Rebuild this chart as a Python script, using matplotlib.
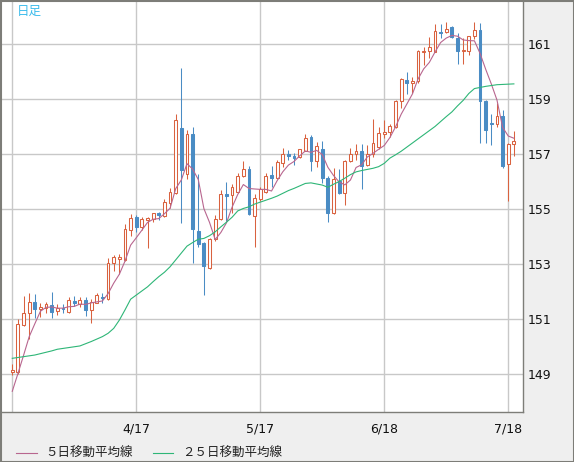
import numpy as np
import pandas as pd
import matplotlib
matplotlib.use('Agg')
import matplotlib.pyplot as plt
from matplotlib.lines import Line2D
from matplotlib.patches import Rectangle

# daily candles, 2024-03-18 .. 2024-07-19 (weekdays)
opens = [149.06, 149.08, 150.78, 151.20, 151.60, 151.38, 151.41, 151.50, 151.28, 151.39,
         151.27, 151.65, 151.55, 151.69, 151.33, 151.59, 151.80, 151.72, 153.02, 153.18,
         153.15, 154.24, 154.72, 154.33, 154.60, 154.62, 154.84, 154.76, 155.23, 155.59,
         157.93, 156.26, 157.73, 154.20, 153.77, 152.84, 153.90, 154.63, 155.53, 155.50,
         155.63, 156.21, 156.44, 154.76, 155.35, 155.63, 156.24, 156.14, 156.68, 157.00,
         156.93, 156.88, 157.12, 157.61, 156.76, 157.17, 156.12, 154.84, 156.03, 155.59,
         156.76, 157.00, 157.12, 156.60, 157.00, 157.27, 157.73, 157.81, 157.99, 158.93,
         159.69, 159.60, 159.65, 160.72, 160.74, 160.72, 161.43, 161.44, 161.61, 161.22,
         160.74, 160.76, 161.28, 161.52, 158.92, 158.13, 158.08, 158.38, 156.62, 157.36]
highs = [149.36, 151.00, 151.84, 151.93, 151.91, 151.59, 151.62, 151.97, 151.56, 151.55,
         151.81, 151.84, 151.79, 151.79, 151.72, 151.96, 151.93, 153.20, 153.33, 153.35,
         154.44, 154.81, 154.77, 154.70, 154.70, 154.87, 154.90, 155.35, 155.75, 158.45,
         160.12, 157.87, 157.99, 156.27, 153.80, 153.95, 154.78, 155.69, 155.99, 155.91,
         156.30, 156.75, 156.56, 155.55, 155.80, 156.32, 156.56, 156.78, 157.21, 157.15,
         157.03, 157.20, 157.73, 157.69, 157.45, 157.47, 156.20, 156.48, 156.44, 156.80,
         157.21, 157.36, 157.36, 157.33, 158.27, 157.97, 158.24, 158.08, 158.96, 159.75,
         160.00, 159.81, 160.79, 160.88, 161.27, 161.74, 161.74, 161.80, 161.64, 161.40,
         161.22, 161.30, 161.80, 161.76, 158.95, 158.45, 158.85, 158.60, 157.40, 157.85]
lows = [148.96, 149.00, 150.75, 150.29, 151.04, 151.08, 151.23, 151.05, 151.16, 151.20,
        151.23, 151.49, 151.45, 151.11, 150.84, 151.57, 151.59, 151.69, 152.75, 152.62,
        153.10, 154.03, 154.17, 154.25, 153.59, 154.54, 154.60, 154.72, 155.02, 155.55,
        154.50, 156.10, 153.05, 153.60, 151.87, 152.80, 153.85, 154.60, 154.57, 154.87,
        155.60, 156.15, 154.80, 153.61, 155.30, 155.60, 155.81, 156.10, 156.54, 156.78,
        156.60, 156.85, 157.10, 156.39, 156.54, 155.96, 154.54, 154.82, 155.55, 155.15,
        156.70, 156.80, 155.72, 156.55, 156.88, 157.20, 157.60, 157.63, 157.95, 158.66,
        159.20, 159.21, 159.60, 160.25, 160.50, 160.70, 161.22, 161.40, 161.22, 160.27,
        160.27, 160.60, 161.20, 157.40, 157.40, 157.34, 158.00, 156.50, 155.28, 156.94]
closes = [149.15, 150.82, 151.21, 151.60, 151.35, 151.43, 151.53, 151.27, 151.39, 151.35,
          151.69, 151.59, 151.69, 151.33, 151.63, 151.87, 151.76, 153.02, 153.24, 153.25,
          154.26, 154.66, 154.36, 154.62, 154.66, 154.84, 154.78, 155.24, 155.61, 158.24,
          156.42, 157.73, 154.26, 153.72, 152.94, 153.91, 154.62, 155.53, 155.48, 155.79,
          156.21, 156.44, 154.81, 155.39, 155.72, 156.21, 156.14, 156.70, 157.00, 156.94,
          156.87, 157.17, 157.57, 156.76, 157.29, 156.12, 154.84, 156.08, 155.59, 156.76,
          157.00, 157.12, 156.58, 157.00, 157.41, 157.75, 157.81, 158.02, 158.93, 159.72,
          159.59, 159.66, 160.75, 160.76, 160.90, 161.46, 161.40, 161.56, 161.24, 160.76,
          160.78, 161.28, 161.52, 158.94, 157.88, 158.10, 158.37, 156.56, 157.36, 157.48]

# closes of the four days before the chart starts (for the 5-day average)
prior_closes = [147.60, 147.90, 148.20, 149.00]

# 25-day average
ma25 = [149.57, 149.60, 149.63, 149.66, 149.69, 149.74, 149.79, 149.84, 149.90, 149.93,
        149.96, 149.99, 150.02, 150.10, 150.18, 150.27, 150.36, 150.48, 150.66, 150.96,
        151.33, 151.72, 151.87, 152.02, 152.17, 152.36, 152.54, 152.70, 152.90, 153.15,
        153.40, 153.65, 153.78, 153.90, 153.93, 154.03, 154.17, 154.35, 154.52, 154.70,
        154.93, 155.02, 155.08, 155.18, 155.25, 155.32, 155.39, 155.47, 155.57, 155.67,
        155.75, 155.84, 155.93, 155.95, 155.91, 155.87, 155.79, 155.90, 156.00, 156.12,
        156.25, 156.35, 156.40, 156.44, 156.48, 156.54, 156.66, 156.85, 156.97, 157.10,
        157.25, 157.40, 157.55, 157.70, 157.85, 158.00, 158.18, 158.36, 158.53, 158.75,
        158.95, 159.20, 159.38, 159.42, 159.46, 159.49, 159.52, 159.53, 159.54, 159.55]

dates = pd.bdate_range('2024-03-18', periods=len(closes))
tick_dates = ['2024-03-18', '2024-04-17', '2024-05-17', '2024-06-18', '2024-07-18']
price_ticks = [149, 151, 153, 155, 157, 159, 161]

UP = '#d9623f'
DOWN = '#4a8cc4'
MA5_COLOR = '#b8668f'
MA25_COLOR = '#2eb677'
GRID = '#c8c8c8'
FRAME = '#7d7d78'
BG = '#efefef'
JP = ['Noto Sans CJK JP', 'DejaVu Sans']


def moving_average(values, n):
    s = pd.Series(values)
    return s.rolling(n).mean().to_numpy()


def main():
    fig = plt.figure(figsize=(5.74, 4.62), dpi=100, facecolor=BG)
    ax = fig.add_axes([1 / 574, 49.7 / 462, 522.3 / 574, 411.3 / 462])
    ax.set_facecolor('white')

    x = np.arange(len(closes))
    o = np.array(opens)
    c = np.array(closes)
    up = c >= o

    # wicks, then bodies on top (hollow up candles hide the wick inside)
    ax.vlines(x[up], np.array(lows)[up], np.array(highs)[up], color=UP, lw=0.75, zorder=3)
    ax.vlines(x[~up], np.array(lows)[~up], np.array(highs)[~up], color=DOWN, lw=0.75, zorder=3)
    body_lo = np.minimum(o, c)
    body_h = np.maximum(np.abs(c - o), 0.03)
    ax.bar(x[up], body_h[up], bottom=body_lo[up], width=0.5, facecolor='white',
           edgecolor=UP, linewidth=0.75, zorder=4)
    ax.bar(x[~up], body_h[~up], bottom=body_lo[~up], width=0.5, facecolor=DOWN,
           edgecolor=DOWN, linewidth=0.75, zorder=4)

    ma5 = moving_average(prior_closes + closes, 5)[len(prior_closes):]
    ax.plot(x, ma5, color=MA5_COLOR, lw=0.8, zorder=5)
    ax.plot(x, ma25, color=MA25_COLOR, lw=0.8, zorder=5)

    ax.set_ylim(147.607, 162.564)
    ax.set_xlim(-2.0, 90.67)

    tick_idx = [int(np.searchsorted(dates, pd.Timestamp(d))) for d in tick_dates]
    ax.set_xticks(tick_idx)
    ax.set_xticklabels(['' if i == 0 else '%d/%d' % (dates[i].month, dates[i].day) for i in tick_idx])
    ax.set_yticks(price_ticks)
    ax.yaxis.tick_right()
    ax.tick_params(axis='both', length=0, labelsize=9, colors='#111111')
    ax.tick_params(axis='x', pad=7)
    ax.tick_params(axis='y', pad=3)
    ax.grid(True, color=GRID, lw=1.0, zorder=0)
    ax.set_axisbelow(True)

    for side in ('left', 'top'):
        ax.spines[side].set_visible(False)
    for side in ('right', 'bottom'):
        ax.spines[side].set_color(FRAME)
        ax.spines[side].set_linewidth(1.0)

    ax.text(16 / 522.3, 1 - 10 / 411.3, '日足', transform=ax.transAxes, color='#3dbcec',
            fontsize=9, family=JP, va='center', ha='left')

    # legend along the bottom
    ly = 1 - 453 / 462
    fig.add_artist(Line2D([16 / 574, 37 / 574], [ly, ly], color=MA5_COLOR, lw=0.8))
    fig.text(45 / 574, ly, '５日移動平均線', family=JP, fontsize=9, va='center', color='#222222')
    fig.add_artist(Line2D([153 / 574, 173 / 574], [ly, ly], color=MA25_COLOR, lw=0.8))
    fig.text(182 / 574, ly, '２５日移動平均線', family=JP, fontsize=9, va='center', color='#222222')

    # outer frame
    fig.add_artist(Rectangle((0.5 / 574, 0.5 / 462), 573 / 574, 461 / 462, transform=fig.transFigure,
                             fill=False, edgecolor=FRAME, lw=1.5))

    fig.savefig('out.png', dpi=100, facecolor=BG)


if __name__ == '__main__':
    main()
